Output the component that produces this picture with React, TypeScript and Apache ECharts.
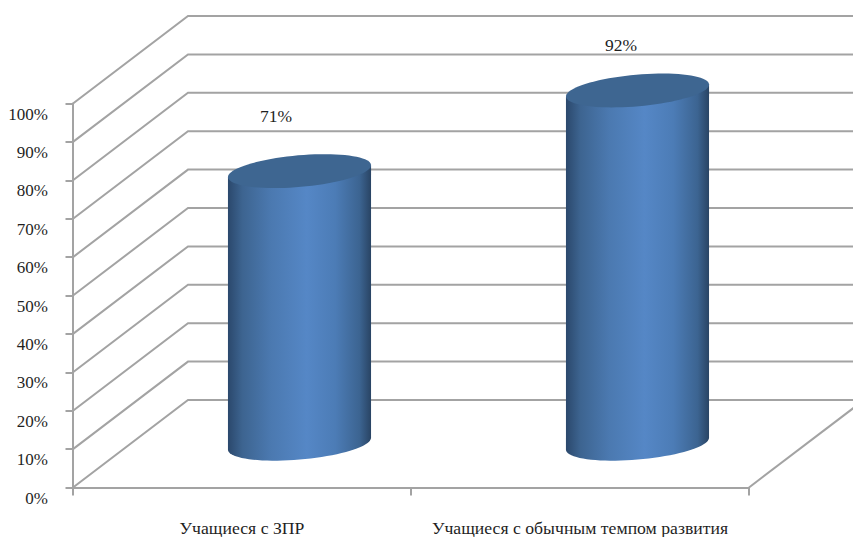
import React, { useEffect, useRef } from "react";
import * as echarts from "echarts";

const categories = ["Учащиеся с ЗПР", "Учащиеся с обычным темпом развития"];
const percentValues = [71, 92];
const tickValues = [0, 10, 20, 30, 40, 50, 60, 70, 80, 90, 100];

const DEPTH_X = 115;
const DEPTH_Y = -87.5;
const LINE = "#a3a3a3";
const FONT = "'Liberation Serif', 'Times New Roman', serif";
const TEXT = "#1f1f1f";
const LABEL_SHIFT = [[34, -99], [41, -89]];

const RX = 71.8;
const RY = 15.8;
const TILT = (-5 * Math.PI) / 180;
const STEPS = 40;
// parameter at which the tilted ellipse reaches its right-most point
const T0 = Math.atan((RY / RX) * Math.tan(-TILT));

function ellipsePoint(cx: number, cy: number, t: number) {
  const ex = RX * Math.cos(t);
  const ey = RY * Math.sin(t);
  return [cx + ex * Math.cos(TILT) - ey * Math.sin(TILT), cy + ex * Math.sin(TILT) + ey * Math.cos(TILT)];
}

function ellipseArc(cx: number, cy: number, from: number, span: number, steps: number) {
  const pts: number[][] = [];
  for (let k = 0; k <= steps; k++) pts.push(ellipsePoint(cx, cy, from + (span * k) / steps));
  return pts;
}

const bodyGradient = {
  type: "linear",
  x: 0,
  y: 0,
  x2: 1,
  y2: 0,
  colorStops: [
    { offset: 0, color: "#2b486c" },
    { offset: 0.1, color: "#3d6490" },
    { offset: 0.3, color: "#4b79b0" },
    { offset: 0.55, color: "#5587c6" },
    { offset: 0.75, color: "#4c7cb6" },
    { offset: 0.92, color: "#3c6491" },
    { offset: 1, color: "#294464" },
  ],
};

export default function App() {
  const ref = useRef<HTMLDivElement>(null);

  useEffect(() => {
    document.body.style.margin = "0";
    const chart = echarts.init(ref.current!, undefined, { renderer: "svg" });
    chart.setOption({
      animation: false,
      backgroundColor: "#ffffff",
      grid: { left: 73, top: 103.5, width: 676, height: 384, containLabel: false, outerBoundsMode: "none" },
      xAxis: {
        type: "category",
        data: categories,
        boundaryGap: true,
        axisLine: { show: true, lineStyle: { color: LINE, width: 2 } },
        axisTick: { show: true, length: 8, lineStyle: { color: LINE, width: 2 } },
        axisLabel: { margin: 31.5, fontFamily: FONT, fontSize: 17.7, color: TEXT, interval: 0 },
      },
      yAxis: {
        type: "value",
        min: 0,
        max: 100,
        interval: 10,
        splitLine: { show: false },
        axisLine: { show: true, lineStyle: { color: LINE, width: 2 } },
        axisTick: { show: true, length: 7.5, lineStyle: { color: LINE, width: 2 } },
        axisLabel: {
          formatter: "{value}%",
          margin: 25,
          fontFamily: FONT,
          fontSize: 17,
          color: TEXT,
          verticalAlign: "top",
          padding: [2, 0, 0, 0],
        },
      },
      series: [
        {
          type: "custom",
          silent: true,
          data: tickValues.map((v) => [0, v]),
          encode: { x: 0, y: 1 },
          z: 1,
          renderItem: (params: any, api: any) => {
            const y = api.coord([0, api.value(1)])[1];
            const x0 = params.coordSys.x;
            const right = x0 + params.coordSys.width + DEPTH_X;
            return {
              type: "polyline",
              shape: { points: [[x0, y], [x0 + DEPTH_X, y + DEPTH_Y], [right, y + DEPTH_Y]] },
              style: { stroke: LINE, lineWidth: 2, fill: "none" },
            };
          },
        },
        {
          type: "custom",
          silent: true,
          data: [[0, 0]],
          encode: { x: 0, y: 1 },
          z: 1,
          renderItem: (params: any, api: any) => {
            const y = api.coord([0, 0])[1];
            const x1 = params.coordSys.x + params.coordSys.width;
            return {
              type: "line",
              shape: { x1, y1: y, x2: x1 + DEPTH_X, y2: y + DEPTH_Y },
              style: { stroke: LINE, lineWidth: 2 },
            };
          },
        },
        {
          type: "custom",
          silent: true,
          data: percentValues.map((v, i) => [i, v]),
          encode: { x: 0, y: 1 },
          z: 3,
          renderItem: (params: any, api: any) => {
            const i = api.value(0);
            const v = api.value(1);
            const [fx, fTop] = api.coord([i, v]);
            const fBottom = api.coord([i, 0])[1];
            const cx = fx + DEPTH_X / 2;
            const top = fTop + DEPTH_Y / 2;
            const bottom = fBottom + DEPTH_Y / 2;
            const shift = LABEL_SHIFT[i];
            const bottomArc = ellipseArc(cx, bottom, T0, Math.PI, STEPS);
            const leftTop = ellipsePoint(cx, top, T0 + Math.PI);
            const rightTop = ellipsePoint(cx, top, T0);
            return {
              type: "group",
              children: [
                {
                  type: "polygon",
                  shape: { points: [...bottomArc, leftTop, rightTop] },
                  style: { fill: bodyGradient },
                },
                {
                  type: "polygon",
                  shape: { points: ellipseArc(cx, top, 0, Math.PI * 2, STEPS * 2) },
                  style: { fill: "#3e6691" },
                },
                {
                  type: "text",
                  x: fx + shift[0],
                  y: fTop + shift[1],
                  style: {
                    text: `${v}%`,
                    fontFamily: FONT,
                    fontSize: 17.5,
                    fill: TEXT,
                    align: "center",
                    verticalAlign: "middle",
                  },
                },
              ],
            };
          },
        },
      ],
    });
    return () => chart.dispose();
  }, []);

  return <div ref={ref} style={{ width: 853, height: 537, position: "absolute", left: 0, top: 0 }} />;
}
